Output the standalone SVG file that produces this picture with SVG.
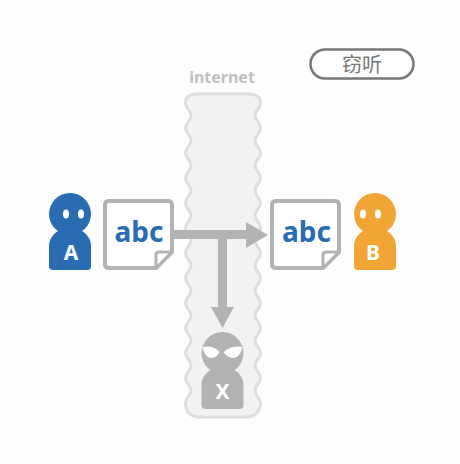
<svg xmlns="http://www.w3.org/2000/svg" width="460" height="464" viewBox="0 0 460 464">
<style>
.sans{font-family:"Noto Sans","Liberation Sans",sans-serif;font-weight:700}
.doc{fill:#fff;stroke:#b3b3b3;stroke-width:4;stroke-linejoin:round}
.fold{fill:#fff;stroke:#b3b3b3;stroke-width:3;stroke-linejoin:round}
.abc{font-size:28px;fill:#2a6cb2;text-anchor:middle}
.who{font-size:21px;fill:#fff;text-anchor:middle}
.w{fill:#fff}
</style>
<defs>
<path id="body" d="M-21,52 V32 C-21,22 -12,14 0,14 C12,14 21,22 21,32 V52 Q21,56 17,56 H-17 Q-21,56 -21,52 Z"/>
</defs>
<rect width="460" height="464" fill="#fdfdfd"/>
<g id="internet">
<path d="M197,94 H249 C256,94 260.500,97 260.500,103 c0,6 -5.500,6.500 -5.500,12.500 s5.500,6.500 5.500,12.500 c0,6 -5.500,6.500 -5.500,12.500 s5.500,6.500 5.500,12.500 c0,6 -5.500,6.500 -5.500,12.500 s5.500,6.500 5.500,12.500 c0,6 -5.500,6.500 -5.500,12.500 s5.500,6.500 5.500,12.500 c0,6 -5.500,6.500 -5.500,12.500 s5.500,6.500 5.500,12.500 c0,6 -5.500,6.500 -5.500,12.500 s5.500,6.500 5.500,12.500 c0,6 -5.500,6.500 -5.500,12.500 s5.500,6.500 5.500,12.500 c0,6 -5.500,6.500 -5.500,12.500 s5.500,6.500 5.500,12.500 c0,6 -5.500,6.500 -5.500,12.500 s5.500,6.500 5.500,12.500 c0,6 -5.500,6.500 -5.500,12.500 s5.500,6.500 5.500,12.500 c0,6 -5.500,6.500 -5.500,12.500 s5.500,6.500 5.500,12.500 c0,6 -5.500,6.500 -5.500,12.500 s5.500,6.500 5.500,12.500 C260.500,412 254,417 246,417 H199 C191,417 185.500,412 185.500,403 c0,-6 5.500,-6.500 5.500,-12.500 s-5.500,-6.500 -5.500,-12.500 c0,-6 5.500,-6.500 5.500,-12.500 s-5.500,-6.500 -5.500,-12.500 c0,-6 5.500,-6.500 5.500,-12.500 s-5.500,-6.500 -5.500,-12.500 c0,-6 5.500,-6.500 5.500,-12.500 s-5.500,-6.500 -5.500,-12.500 c0,-6 5.500,-6.500 5.500,-12.500 s-5.500,-6.500 -5.500,-12.500 c0,-6 5.500,-6.500 5.500,-12.500 s-5.500,-6.500 -5.500,-12.500 c0,-6 5.500,-6.500 5.500,-12.500 s-5.500,-6.500 -5.500,-12.500 c0,-6 5.500,-6.500 5.500,-12.500 s-5.500,-6.500 -5.500,-12.500 c0,-6 5.500,-6.500 5.500,-12.500 s-5.500,-6.500 -5.500,-12.500 c0,-6 5.500,-6.500 5.500,-12.500 s-5.500,-6.500 -5.500,-12.500 c0,-6 5.500,-6.500 5.500,-12.500 s-5.500,-6.500 -5.500,-12.500 c0,-6 5.500,-6.500 5.500,-12.500 s-5.500,-6.500 -5.500,-12.500 C185.500,97 190,94 197,94 Z" fill="#f2f2f2" stroke="#dedede" stroke-width="3"/>
<text class="sans" x="222" y="83" font-size="16" fill="#c0c0c0" text-anchor="middle">internet</text>
</g>
<g id="legend">
<rect x="310.500" y="49.500" width="103" height="29" rx="14.500" fill="#fff" stroke="#777" stroke-width="2.500"/>
<text x="362" y="72" font-size="20" fill="#777" text-anchor="middle" font-family="'Noto Sans CJK SC',sans-serif">窃听</text>
</g>
<g id="connectors" fill="#b3b3b3">
<path d="M174,230 H246 V222 L268,235 L246,248 V239 H227 V307 H234 L222.500,328 L211,307 H218 V239 H174 Z"/>
</g>
<g id="personA" fill="#2a6cb2" transform="translate(70,214)">
<circle cx="0" cy="0" r="21"/>
<use href="#body"/>
<ellipse class="w" cx="-4" cy="0" rx="3" ry="4.500"/>
<ellipse class="w" cx="11" cy="0" rx="3" ry="4.500"/>
<text class="sans who" x="1" y="46">A</text>
</g>
<g id="docA">
<path class="doc" d="M109,201 H168 Q172,201 172,205 V252 L156,268 H109 Q105,268 105,264 V205 Q105,201 109,201 Z"/>
<path class="fold" d="M172,252 H159 Q156,252 156,255 V268 Z"/>
<text class="sans abc" x="139" y="242">abc</text>
</g>
<g id="docB">
<path class="doc" d="M276,201 H335 Q339,201 339,205 V252 L323,268 H276 Q272,268 272,264 V205 Q272,201 276,201 Z"/>
<path class="fold" d="M339,252 H326 Q323,252 323,255 V268 Z"/>
<text class="sans abc" x="306.500" y="242">abc</text>
</g>
<g id="personB" fill="#f0a535" transform="translate(375,214)">
<circle cx="0" cy="0" r="21"/>
<use href="#body"/>
<ellipse class="w" cx="-12" cy="0" rx="3" ry="4.500"/>
<ellipse class="w" cx="3" cy="0" rx="3" ry="4.500"/>
<text class="sans who" x="-2" y="46">B</text>
</g>
<g id="personX" fill="#b3b3b3" transform="translate(222.500,353)">
<circle cx="0" cy="0" r="21"/>
<use href="#body"/>
<path class="w" d="M-20,-6 Q-10,-8 -3,-1 Q-6,5 -12,5 Q-18,4 -20,-6 Z"/>
<path class="w" d="M20,-6 Q10,-8 1,-1 Q5,5 11,5 Q18,4 20,-6 Z"/>
<text class="sans who" x="0" y="46">X</text>
</g>
</svg>
